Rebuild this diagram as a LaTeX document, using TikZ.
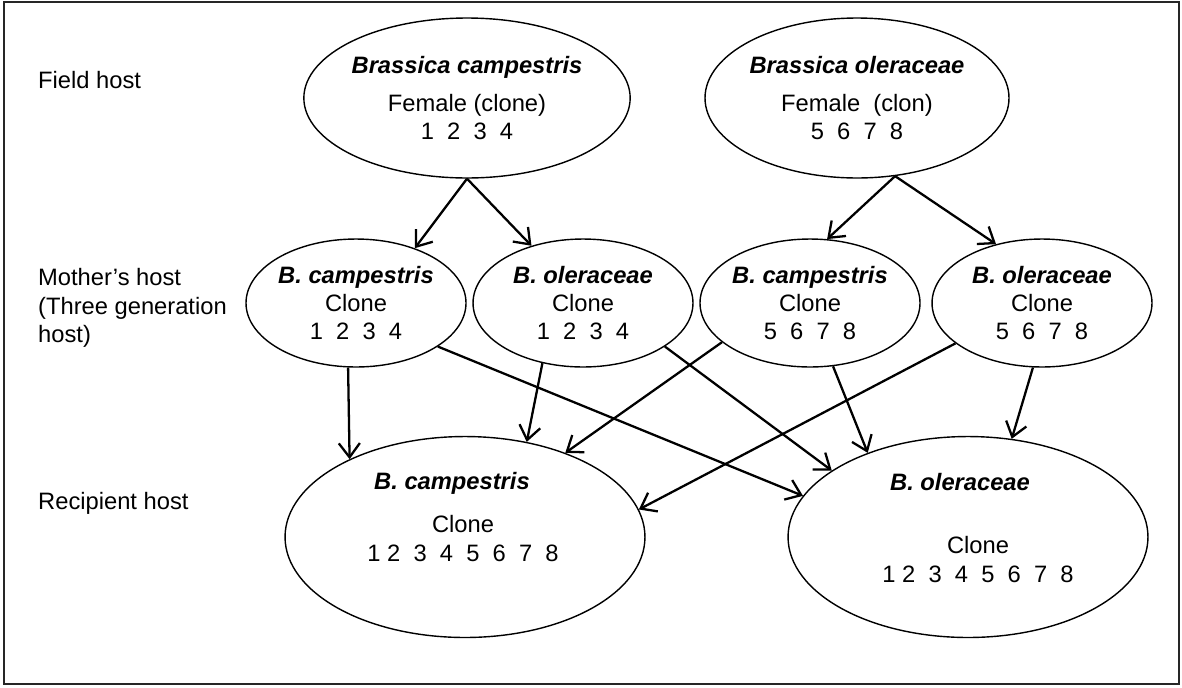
\documentclass[tikz,border=0pt]{standalone}
\usepackage{fontspec}
\setmainfont{Liberation Sans}
\usetikzlibrary{shapes.geometric,arrows.meta}
\newcommand{\species}[1]{\textbf{\textit{#1}}}

\begin{document}
\begin{tikzpicture}[x=0.02cm,y=-0.02cm,
		every node/.style={font=\fontsize{13.5}{16.2}\selectfont},
		host/.style={ellipse,draw,line width=0.8pt,inner sep=0pt,align=center},
		fieldhost/.style={host,minimum width=5.38cm,minimum height=3.2cm},
		motherhost/.style={host,minimum width=4.4cm,minimum height=2.56cm},
		recipienthost/.style={host,minimum width=7.2cm,minimum height=4.02cm},
		arr/.style={line width=1.3pt,-{Straight Barb[length=8pt,width=12pt]}}]
				\useasboundingbox (0,0) rectangle (1182,687);
				\draw[line width=1pt,black!85] (4,2) rectangle (1179,684);
				% row labels
				\node[anchor=west] (field) at (32,80) {Field host};
				\node[anchor=west,align=left] (mother) at (32,308) {Mother's host\\(Three generation\\host)};
				\node[anchor=west] (recipient) at (32,503) {Recipient host};
				% field hosts
				\node[fieldhost] (fbc) at (467,98) {\species{Brassica campestris}\\[5.7pt]Female (clone)\\1~~2~~3~~4};
				\node[fieldhost] (fbo) at (857,98) {\species{Brassica oleraceae}\\[5.7pt]Female~~(clon)\\5~~6~~7~~8};
				% mother's hosts
				\node[motherhost] (mbc1) at (356,303) {\species{B. campestris}\\Clone\\1~~2~~3~~4};
				\node[motherhost] (mbo1) at (583,303) {\species{B. oleraceae}\\Clone\\1~~2~~3~~4};
				\node[motherhost] (mbc2) at (810,303) {\species{B. campestris}\\Clone\\5~~6~~7~~8};
				\node[motherhost] (mbo2) at (1042,303) {\species{B. oleraceae}\\Clone\\5~~6~~7~~8};
				% recipient hosts
				\node[recipienthost] (rbc) at (465,537) {};
				\node[align=center] (rbctext) at (463,517) {\species{B. campestris}\hspace*{0.44cm}\\[8.2pt]Clone\\1 2~~3~~4~~5~~6~~7~~8};
				\node[recipienthost] (rbo) at (968,537) {};
				\node[align=center] (rbotext) at (978,528) {\species{B. oleraceae}\hspace*{0.72cm}\\[19.5pt]Clone\\1 2~~3~~4~~5~~6~~7~~8};
				\draw[arr] (fbc.south) -- (mbc1.43);
				\draw[arr] (fbc.south) -- (mbo1.132);
				\draw[arr] (fbo.-64) -- (mbc2.75);
				\draw[arr] (fbo.-64) -- (mbo2.128);
				\draw[arr] (mbc1.-97) -- (rbc.146);
				\draw[arr] (mbc1.-28) -- (rbo.166);
				\draw[arr] (mbo1.-124) -- (rbc.57);
				\draw[arr] (mbo1.-28) -- (rbo.154);
				\draw[arr] (mbc2.-156) -- (rbc.40);
				\draw[arr] (mbc2.-70) -- (rbo.140);
				\draw[arr] (mbo2.-155) -- (rbc.9);
				\draw[arr] (mbo2.-98) -- (rbo.66);
			\end{tikzpicture}
\end{document}
